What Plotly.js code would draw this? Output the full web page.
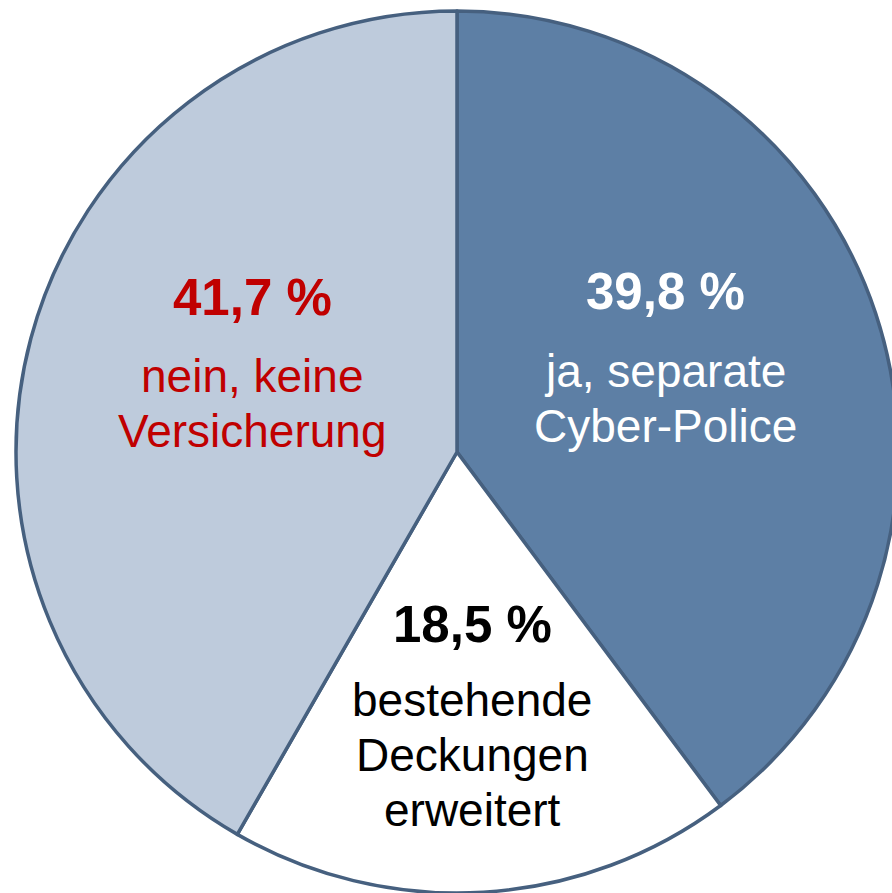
<!DOCTYPE html>
<html>
<head>
<meta charset="utf-8">
<script src="https://cdn.plot.ly/plotly-3.0.1.min.js"></script>
<style>
html, body { margin: 0; padding: 0; overflow: hidden; background: #ffffff; }
#chart { width: 898px; height: 893px; }
</style>
</head>
<body>
<div id="chart"></div>
<script>
// Data
const categories = ["ja, separate Cyber-Police", "bestehende Deckungen erweitert", "nein, keine Versicherung"];
const values = [39.8, 18.5, 41.7];
const percentLabels = ["39,8 %", "18,5 %", "41,7 %"];
const descriptionLines = [
  ["ja, separate", "Cyber-Police"],
  ["bestehende", "Deckungen", "erweitert"],
  ["nein, keine", "Versicherung"]
];

// Styles
const sliceColors = ["#5D7FA5", "#FFFFFF", "#BECBDC"];
const textColors = ["#FFFFFF", "#000000", "#C00000"];
const labelAnchors = [
  {x: 665, pctY: 292, descY: 371},
  {x: 472, pctY: 624, descY: 700},
  {x: 252, pctY: 297, descY: 376}
];
const lineStep = 55;

const M = {l: 16, r: 0, t: 11, b: 0};
const PW = 882, PH = 882;
const px2x = px => (px - M.l) / PW;
const py2y = py => 1 - (py - M.t) / PH;

const annotations = [];
percentLabels.forEach((p, i) => {
  const a = labelAnchors[i];
  annotations.push({
    text: "<b>" + p + "</b>", x: px2x(a.x), y: py2y(a.pctY), xref: "paper", yref: "paper",
    showarrow: false, xanchor: "center", yanchor: "middle",
    font: {family: "Liberation Sans, Arial, sans-serif", size: 51, color: textColors[i]}
  });
  descriptionLines[i].forEach((line, j) => {
    annotations.push({
      text: line, x: px2x(a.x), y: py2y(a.descY + j * lineStep), xref: "paper", yref: "paper",
      showarrow: false, xanchor: "center", yanchor: "middle",
      font: {family: "Liberation Sans, Arial, sans-serif", size: 46, color: textColors[i]}
    });
  });
});

const trace = {
  type: "pie",
  labels: categories,
  values: values,
  sort: false,
  direction: "clockwise",
  rotation: 0,
  textinfo: "none",
  hoverinfo: "none",
  marker: {colors: sliceColors, line: {color: "#46607F", width: 3.5}},
  domain: {x: [0, 1], y: [0, 1]}
};

const layout = {
  width: 898, height: 893,
  margin: M,
  showlegend: false,
  paper_bgcolor: "#ffffff",
  plot_bgcolor: "#ffffff",
  annotations: annotations
};

Plotly.newPlot("chart", [trace], layout, {displayModeBar: false, staticPlot: true});
</script>
</body>
</html>
